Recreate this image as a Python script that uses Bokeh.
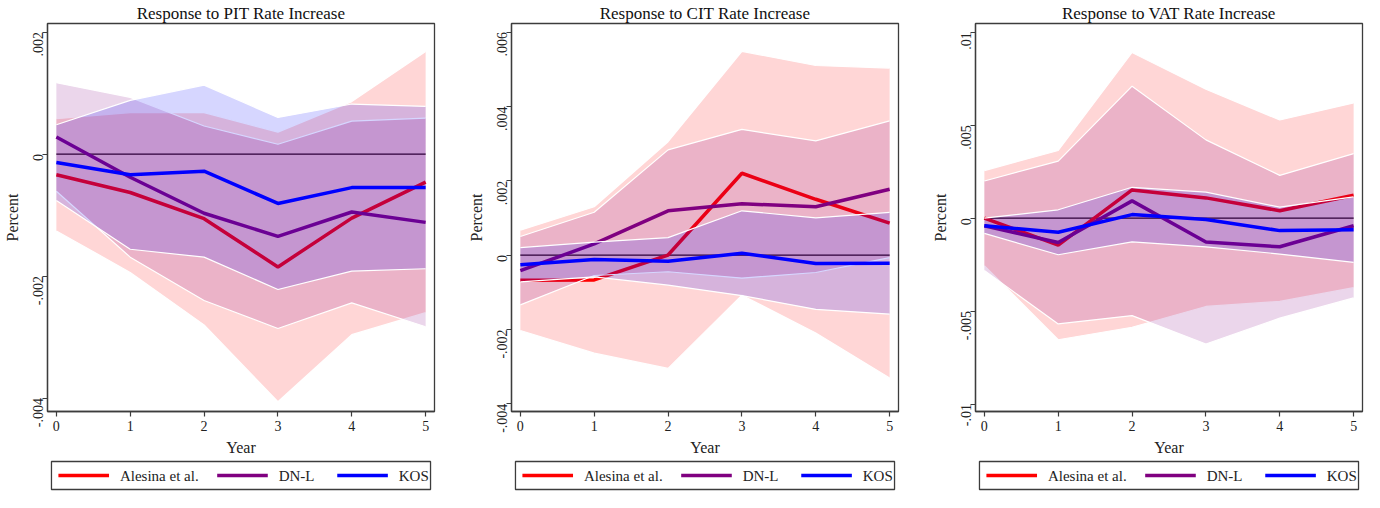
import math
from bokeh.plotting import figure
from bokeh.layouts import row, column
from bokeh.models import Range1d, FixedTicker
from bokeh.core.properties import value
from bokeh.embed import file_html
from bokeh.resources import INLINE

years = [0, 1, 2, 3, 4, 5]
series_names = ["Alesina et al.", "DN-L", "KOS"]
series_colors = ["#FF0000", "#800080", "#0000FF"]

# ---- PIT ----
pit_ales = [-0.00034, -0.00063, -0.00106, -0.00185, -0.00105, -0.00046]
pit_ales_hi = [0.00058, 0.00068, 0.00068, 0.00036, 0.00086, 0.00168]
pit_ales_lo = [-0.00126, -0.00194, -0.00280, -0.00406, -0.00296, -0.00260]
pit_dnl = [0.00028, -0.00038, -0.00097, -0.00135, -0.00095, -0.00112]
pit_dnl_hi = [0.00117, 0.00093, 0.00046, 0.00016, 0.00054, 0.00059]
pit_dnl_lo = [-0.00061, -0.00169, -0.00240, -0.00286, -0.00244, -0.00283]
pit_kos = [-0.00014, -0.00034, -0.00028, -0.00081, -0.00055, -0.00055]
pit_kos_hi = [0.00048, 0.00088, 0.00113, 0.00060, 0.00082, 0.00078]
pit_kos_lo = [-0.00076, -0.00156, -0.00169, -0.00222, -0.00192, -0.00188]
pit_ticks = [-0.004, -0.002, 0.0, 0.002]
pit_tick_labels = ["-.004", "-.002", "0", ".002"]
pit_ylim = [-0.00422, 0.00214]

# ---- CIT ----
cit_ales = [-0.00068, -0.00067, 0.0, 0.0022, 0.0015, 0.00086]
cit_ales_hi = [0.00067, 0.0013, 0.00305, 0.00548, 0.0051, 0.00503]
cit_ales_lo = [-0.00203, -0.00264, -0.00305, -0.00108, -0.0021, -0.00331]
cit_dnl = [-0.00042, 0.0003, 0.00119, 0.00138, 0.0013, 0.00177]
cit_dnl_hi = [0.0005, 0.00115, 0.00283, 0.00338, 0.00307, 0.00361]
cit_dnl_lo = [-0.00134, -0.00055, -0.00045, -0.00062, -0.00047, -0.00007]
cit_kos = [-0.00026, -0.00012, -0.00017, 0.00005, -0.00023, -0.00022]
cit_kos_hi = [0.0002, 0.00035, 0.00047, 0.00119, 0.001, 0.00115]
cit_kos_lo = [-0.00072, -0.00059, -0.00081, -0.00109, -0.00146, -0.00159]
cit_ticks = [-0.004, -0.002, 0.0, 0.002, 0.004, 0.006]
cit_tick_labels = ["-.004", "-.002", "0", ".002", ".004", ".006"]
cit_ylim = [-0.00421, 0.00623]

# ---- VAT ----
vat_ales = [0.0, -0.00145, 0.00152, 0.00109, 0.0004, 0.00123]
vat_ales_hi = [0.00256, 0.00364, 0.00891, 0.00693, 0.00528, 0.0062]
vat_ales_lo = [-0.00256, -0.00654, -0.00587, -0.00475, -0.00448, -0.00374]
vat_dnl = [-0.00041, -0.00131, 0.00093, -0.00128, -0.00154, -0.00041]
vat_dnl_hi = [0.002, 0.00307, 0.0071, 0.00421, 0.0023, 0.00347]
vat_dnl_lo = [-0.00282, -0.00569, -0.00524, -0.00677, -0.00538, -0.00429]
vat_kos = [-0.00041, -0.00076, 0.00019, -0.00007, -0.00067, -0.00062]
vat_kos_hi = [0.0, 0.00045, 0.00166, 0.0014, 0.00059, 0.00114]
vat_kos_lo = [-0.00082, -0.00197, -0.00128, -0.00154, -0.00193, -0.00238]
vat_ticks = [-0.01, -0.005, 0.0, 0.005, 0.01]
vat_tick_labels = ["-.01", "-.005", "0", ".005", ".01"]
vat_ylim = [-0.0104, 0.01047]

titles = ["Response to PIT Rate Increase", "Response to CIT Rate Increase",
          "Response to VAT Rate Increase"]
zero_line = [0.0] * len(years)

FONT = "Liberation Serif"
AX = "#3c3c3c"
BL = 44          # left border (y axis area)
FW = 390         # frame width
PLOT_H = 458
LEG_H = 34


def panel(title, ylim, ticks, tick_labels, data, border_right):
    p = figure(width=BL + FW + border_right, height=PLOT_H, output_backend="svg",
               toolbar_location=None,
               x_range=Range1d(years[0] - 0.12, years[-1] + 0.12),
               y_range=Range1d(ylim[0], ylim[1]),
               min_border_left=BL, min_border_right=border_right,
               min_border_top=4, min_border_bottom=4)
    p.title.text = title
    p.title.align = "center"
    p.title.text_font = FONT
    p.title.text_font_size = "17px"
    p.title.text_font_style = "normal"
    p.title.text_color = "#111111"
    p.title.standoff = 2
    p.xgrid.visible = False
    p.ygrid.visible = False
    p.background_fill_color = "white"
    p.border_fill_color = "white"
    p.outline_line_color = AX
    p.outline_line_width = 1.3
    p.outline_line_alpha = 1.0

    p.line(years, zero_line, color="black", line_width=1.3)

    for (est, hi, lo), col in zip(data, series_colors):
        p.varea(x=years, y1=lo, y2=hi, fill_color=col, fill_alpha=0.16)
        p.line(years, hi, color="white", line_width=1.2)
        p.line(years, lo, color="white", line_width=1.2)
        p.line(years, est, color=col, line_width=3.5)

    for ax in (p.xaxis[0], p.yaxis[0]):
        ax.axis_line_color = AX
        ax.axis_line_width = 1.3
        ax.major_tick_line_color = AX
        ax.major_tick_line_width = 1.2
        ax.major_tick_out = 5
        ax.major_tick_in = 0
        ax.minor_tick_line_color = None
        ax.major_label_text_font = FONT
        ax.major_label_text_font_size = "14px"
        ax.major_label_text_color = "#222222"
        ax.axis_label_text_font = FONT
        ax.axis_label_text_font_size = "16px"
        ax.axis_label_text_font_style = "normal"
        ax.axis_label_text_color = "#222222"
        ax.major_label_standoff = 4
        ax.axis_label_standoff = 5

    p.xaxis.ticker = FixedTicker(ticks=years)
    p.xaxis.axis_label = "Year"
    p.yaxis.ticker = FixedTicker(ticks=ticks)
    p.yaxis.major_label_overrides = {t: l for t, l in zip(ticks, tick_labels)}
    p.yaxis.major_label_orientation = math.pi / 2
    p.yaxis.axis_label = "Percent"
    return p


def legend_fig(border_right):
    # the column layout aligns this figure's frame with the plot frame above,
    # so coordinates here are pixels from the plot frame's left edge
    w = BL + FW + border_right
    lf = figure(width=w, height=LEG_H, output_backend="svg", toolbar_location=None,
                x_range=Range1d(0, FW), y_range=Range1d(0, LEG_H),
                x_axis_type=None, y_axis_type=None,
                min_border_left=BL, min_border_right=border_right,
                min_border_top=0, min_border_bottom=0)
    lf.xgrid.visible = False
    lf.ygrid.visible = False
    lf.outline_line_color = None
    lf.background_fill_color = "white"
    lf.border_fill_color = "white"
    left = 4
    right = FW - 4
    lf.quad(left=[left], right=[right], bottom=[3], top=[LEG_H - 3],
            fill_color="white", line_color=AX, line_width=1.3)
    mid = LEG_H / 2
    sample_off = [7, 167, 288]
    for off, name, col in zip(sample_off, series_names, series_colors):
        lf.line([left + off, left + off + 51], [mid, mid], color=col, line_width=3.5)
        lf.text(x=[left + off + 62], y=[mid], text=[name], text_font=value(FONT),
                text_font_size="15px", text_baseline="middle", text_color="#222222")
    return lf


p1 = panel(titles[0], pit_ylim, pit_ticks, pit_tick_labels,
           [(pit_ales, pit_ales_hi, pit_ales_lo), (pit_dnl, pit_dnl_hi, pit_dnl_lo),
            (pit_kos, pit_kos_hi, pit_kos_lo)], 30)
p2 = panel(titles[1], cit_ylim, cit_ticks, cit_tick_labels,
           [(cit_ales, cit_ales_hi, cit_ales_lo), (cit_dnl, cit_dnl_hi, cit_dnl_lo),
            (cit_kos, cit_kos_hi, cit_kos_lo)], 30)
p3 = panel(titles[2], vat_ylim, vat_ticks, vat_tick_labels,
           [(vat_ales, vat_ales_hi, vat_ales_lo), (vat_dnl, vat_dnl_hi, vat_dnl_lo),
            (vat_kos, vat_kos_hi, vat_kos_lo)], 2)

layout = row(column(p1, legend_fig(30)), column(p2, legend_fig(30)),
             column(p3, legend_fig(2)))
open("out.html", "w").write(file_html(layout, INLINE))
